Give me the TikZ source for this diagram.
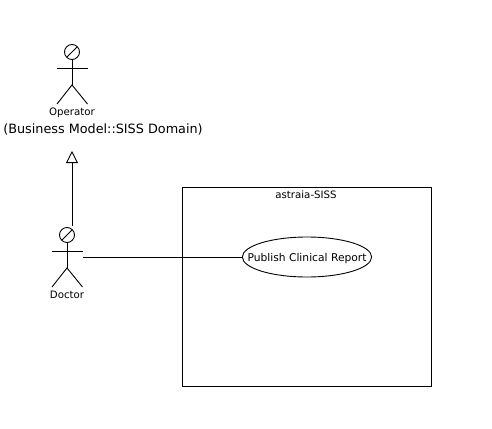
\documentclass[tikz,border=0pt]{standalone}
\usepackage{fontspec}
\setmainfont{DejaVu Sans}
\usetikzlibrary{arrows.meta,shapes.geometric}

\begin{document}
\begin{tikzpicture}[x=1pt,y=-1pt,line width=0.9pt]
  \tikzstyle{head}=[circle,draw,minimum size=15pt,inner sep=0pt]
  \tikzstyle{caption}=[inner sep=0pt,text depth=0pt,font=\fontsize{10.2}{12}\selectfont]
  \tikzstyle{package}=[draw,minimum width=248.5pt,minimum height=198.5pt,inner sep=0pt]
  \tikzstyle{usecase}=[ellipse,draw,minimum height=40pt,inner ysep=0pt,inner xsep=-13.8pt,text depth=0pt,font=\fontsize{10.7}{12}\selectfont]
  \useasboundingbox (0,0) rectangle (492,428);

  \foreach \name/\x/\y in {Operator/72/52, Doctor/67/235} {
    \node[head] (head-\name) at (\x,\y) {};
    \draw (head-\name.south) -- ++(0,25) coordinate (hip-\name);
    \draw (\x-15.5,\y+16) -- (\x+15.5,\y+16);
    \draw (\x-15,\y+52) -- (hip-\name) -- (\x+15.5,\y+52);
    \draw (\x-5,\y+5) -- (\x+5,\y-5);
    \node[caption] (label-\name) at (\x,\y+59.5) {\name};
  }

  \node[caption,font=\fontsize{12.8}{14}\selectfont] (domain) at (103,129) {(Business Model::SISS Domain)};

  \node[package] (system) at (306.75,286.75) {};
  \node[caption] (system-title) at (306,195) {astraia-SISS};
  \node[usecase] (publish) at (307,257) {Publish Clinical Report};

  \coordinate (apex) at (72,151);
  \coordinate (doctor-top) at (72,226);
  \coordinate (doctor-hand) at (83,257);

  \draw[-{Triangle[open,length=12pt,width=12pt]}] (doctor-top) -- (apex);
  \draw (doctor-hand) -- (publish.west);
\end{tikzpicture}
\end{document}
